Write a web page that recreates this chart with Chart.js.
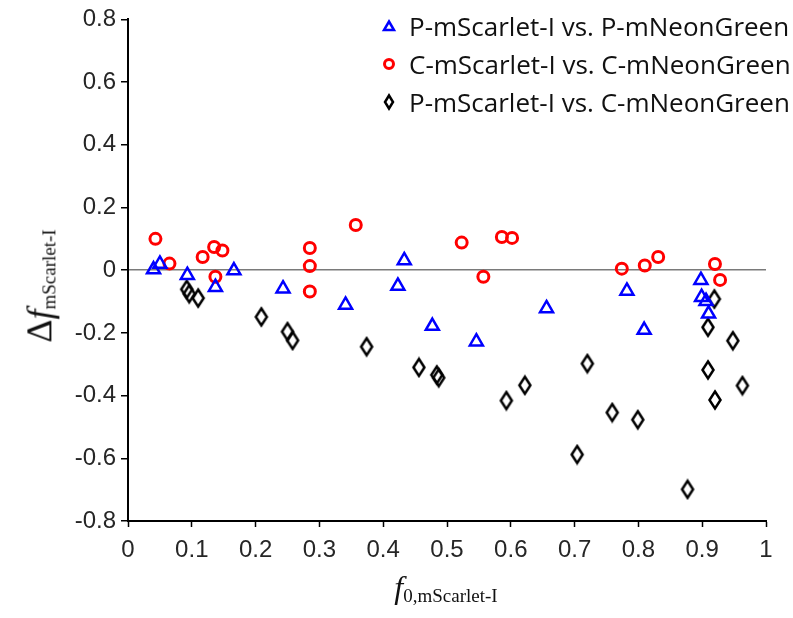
<!DOCTYPE html>
<html lang="en">
<head>
    <meta charset="UTF-8">
    <title>mScarlet-I fraction shift</title>
    <script src="https://cdn.jsdelivr.net/npm/chart.js"></script>
    <style>
        * {
            margin: 0;
            padding: 0;
            box-sizing: border-box;
        }

        body {
            width: 793px;
            height: 618px;
            background: #fff;
            overflow: hidden;
        }

        .chart-wrap {
            position: relative;
            width: 793px;
            height: 618px;
        }

        #scatter {
            position: absolute;
            left: 0;
            top: 0;
        }

        .legend {
            position: absolute;
            left: 378px;
            top: 7px;
            font-family: "Open Sans", sans-serif;
            font-size: 26px;
            color: #111;
        }

        .legend-item {
            display: flex;
            align-items: center;
            height: 38px;
            white-space: nowrap;
        }

        .legend-item svg {
            width: 22px;
            height: 22px;
            margin-right: 9px;
        }

        .axis-title {
            position: absolute;
            font-family: "Liberation Serif", "DejaVu Serif", serif;
            color: #111;
            white-space: nowrap;
            line-height: 1;
        }

        .axis-title .big {
            font-size: 32px;
        }

        #y-title .big {
            font-size: 36px;
        }

        .axis-title sub {
            font-size: 19px;
        }

        #x-title {
            left: 446px;
            top: 588px;
            transform: translate(-50%, -50%);
        }

        #y-title {
            left: 40px;
            top: 286px;
            transform: translate(-50%, -50%) rotate(-90deg);
        }
    </style>
</head>
<body>
    <div class="chart-wrap">
        <canvas id="scatter" width="793" height="618"></canvas>

        <div class="legend">
            <div class="legend-item">
                <svg viewBox="0 0 22 22"><polygon points="11,6.5 16,15 6,15" fill="none" stroke="#0000ff" stroke-width="2.5"/></svg>
                P-mScarlet-I vs. P-mNeonGreen
            </div>
            <div class="legend-item">
                <svg viewBox="0 0 22 22"><circle cx="11" cy="11" r="4.5" fill="none" stroke="#ff0000" stroke-width="3"/></svg>
                C-mScarlet-I vs. C-mNeonGreen
            </div>
            <div class="legend-item">
                <svg viewBox="0 0 22 22"><polygon points="11,4.5 15,11 11,17.5 7,11" fill="none" stroke="#000" stroke-width="2.5"/></svg>
                P-mScarlet-I vs. C-mNeonGreen
            </div>
        </div>

        <div class="axis-title" id="x-title"><i class="big">f</i><sub>0,mScarlet-I</sub></div>
        <div class="axis-title" id="y-title"><span class="big">&Delta;</span><i class="big">f</i><sub>mScarlet-I</sub></div>
    </div>

    <script>
        // P-mScarlet-I vs. P-mNeonGreen (blue triangles)
        const ppX = [0.040, 0.050, 0.093, 0.137, 0.166, 0.243, 0.341, 0.423, 0.433, 0.477, 0.546, 0.656, 0.782, 0.809, 0.898, 0.899, 0.906, 0.910];
        const ppY = [0.002, 0.020, -0.016, -0.054, -0.001, -0.059, -0.111, -0.050, 0.031, -0.178, -0.228, -0.122, -0.066, -0.191, -0.032, -0.086, -0.099, -0.139];

        // C-mScarlet-I vs. C-mNeonGreen (red circles)
        const ccX = [0.043, 0.065, 0.117, 0.135, 0.148, 0.137, 0.285, 0.285, 0.285, 0.357, 0.523, 0.586, 0.602, 0.557, 0.774, 0.810, 0.831, 0.920, 0.928];
        const ccY = [0.100, 0.021, 0.042, 0.074, 0.063, -0.021, 0.071, 0.013, -0.068, 0.144, 0.088, 0.106, 0.103, -0.021, 0.005, 0.015, 0.042, 0.020, -0.031];

        // P-mScarlet-I vs. C-mNeonGreen (black diamonds)
        const pcX = [0.092, 0.096, 0.110, 0.209, 0.250, 0.258, 0.374, 0.456, 0.484, 0.487, 0.593, 0.622, 0.720, 0.759, 0.799, 0.704, 0.877, 0.919, 0.909, 0.948, 0.909, 0.963, 0.920];
        const pcY = [-0.061, -0.075, -0.089, -0.149, -0.196, -0.224, -0.244, -0.310, -0.334, -0.343, -0.416, -0.367, -0.298, -0.454, -0.477, -0.588, -0.699, -0.092, -0.182, -0.225, -0.318, -0.368, -0.414];

        const xRange = [0, 1];
        const yRange = [-0.8, 0.8];

        const toPoints = (xs, ys) => xs.map((x, i) => ({ x: x, y: ys[i] }));
        const fmt = v => String(Math.round(v * 10) / 10);

        // tall thin diamond marker
        function makeDiamond() {
            const c = document.createElement('canvas');
            c.width = 16;
            c.height = 22;
            const g = c.getContext('2d');
            g.strokeStyle = '#000';
            g.lineWidth = 2.5;
            g.beginPath();
            g.moveTo(8, 2.5);
            g.lineTo(13.5, 11);
            g.lineTo(8, 19.5);
            g.lineTo(2.5, 11);
            g.closePath();
            g.stroke();
            return c;
        }

        const tickFont = { family: '"Liberation Sans", Arial, sans-serif', size: 24 };

        new Chart(document.getElementById('scatter'), {
            type: 'scatter',
            data: {
                datasets: [{
                    label: 'P-mScarlet-I vs. P-mNeonGreen',
                    data: toPoints(ppX, ppY),
                    pointStyle: 'triangle',
                    radius: 7.5,
                    borderWidth: 2.5,
                    borderColor: '#0000ff',
                    backgroundColor: 'rgba(0,0,0,0)'
                }, {
                    label: 'C-mScarlet-I vs. C-mNeonGreen',
                    data: toPoints(ccX, ccY),
                    pointStyle: 'circle',
                    radius: 5.5,
                    borderWidth: 3,
                    borderColor: '#ff0000',
                    backgroundColor: 'rgba(0,0,0,0)'
                }, {
                    label: 'P-mScarlet-I vs. C-mNeonGreen',
                    data: toPoints(pcX, pcY),
                    pointStyle: makeDiamond(),
                    radius: 8,
                    borderColor: '#000',
                    backgroundColor: 'rgba(0,0,0,0)'
                }]
            },
            options: {
                responsive: false,
                animation: false,
                layout: {
                    padding: { top: 18, right: 27, left: 0, bottom: 0 }
                },
                plugins: {
                    legend: { display: false },
                    tooltip: { enabled: false }
                },
                scales: {
                    x: {
                        type: 'linear',
                        min: xRange[0],
                        max: xRange[1],
                        afterFit: s => { s.height = 97; },
                        border: { color: '#000', width: 2 },
                        grid: {
                            drawOnChartArea: false,
                            tickColor: '#000',
                            tickLength: 6,
                            tickWidth: 1.5
                        },
                        ticks: {
                            stepSize: 0.1,
                            padding: 9,
                            color: '#262626',
                            font: tickFont,
                            callback: fmt
                        }
                    },
                    y: {
                        min: yRange[0],
                        max: yRange[1],
                        afterFit: s => { s.width = 128; },
                        border: { color: '#000', width: 2 },
                        grid: {
                            color: c => (c.tick && c.tick.value === 0 ? '#7a7a7a' : 'rgba(0,0,0,0)'),
                            lineWidth: 1.5,
                            tickColor: '#000',
                            tickLength: 7,
                            tickWidth: 1.5
                        },
                        ticks: {
                            stepSize: 0.2,
                            padding: 5,
                            color: '#262626',
                            font: tickFont,
                            callback: fmt
                        }
                    }
                }
            }
        });
    </script>
</body>
</html>
